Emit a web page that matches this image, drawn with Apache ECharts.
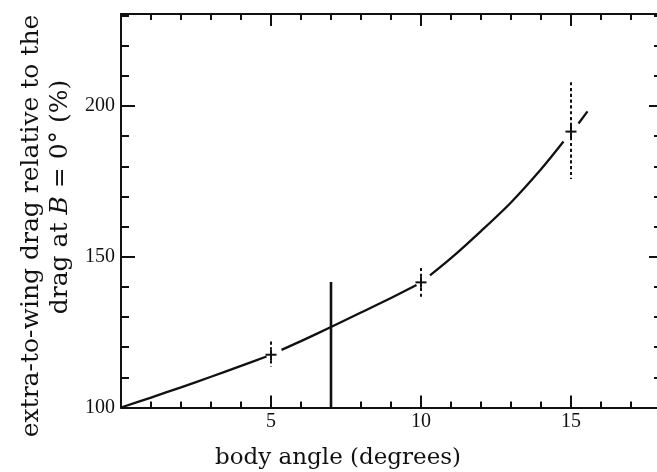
<!DOCTYPE html>
<html>
<head>
<meta charset="utf-8">
<script src="https://cdn.jsdelivr.net/npm/echarts@6/dist/echarts.min.js"></script>
<style>
  html, body { margin: 0; padding: 0; background: #ffffff; }
  #chart { width: 657px; height: 472px; }
</style>
</head>
<body>
<div id="chart"></div>
<script>
// Fitted drag curve, drawn in pieces (breaks around each measured point)
const curveAngles = [0, 1, 2, 3, 4, 4.85, null, 5.35, 6, 7, 8, 9, 9.85, null, 10.3, 11, 12, 13, 14, 14.75, null, 15.25, 15.55];
const curveDrag   = [100, 103.3, 106.7, 110.2, 113.8, 116.9, null, 119.1, 122, 126.7, 131.5, 136.3, 140.6, null, 143.8, 149.5, 158.5, 168, 179, 188.2, null, 194.2, 198.2];

// Measured points with their scatter ranges
const pointAngles = [5, 10, 15];
const pointDrag   = [117.5, 141.5, 191.5];
const rangeLow    = [113.6, 136.5, 175.8];
const rangeHigh   = [121.9, 146.3, 207.9];

// Vertical reference bar at 7 degrees
const barAngle = [7, 7];
const barDrag  = [100, 141.6];

// Axis settings
const xTickLabels = [5, 10, 15];
const yTickLabels = [100, 150, 200];
const xRange = [0, 18];
const yRange = [100, 230.5];

const ink = '#111111';
const digitFont = 'Liberation Serif';
const titleFont = 'DejaVu Serif';

const curveData = curveAngles.map((a, i) => (a === null ? [null, null] : [a, curveDrag[i]]));
const pointData = pointAngles.map((a, i) => [a, pointDrag[i], rangeLow[i], rangeHigh[i]]);
const barData = barAngle.map((a, i) => [a, barDrag[i]]);

function baseAxis(extra) {
  return Object.assign({
    type: 'value',
    axisLine: { show: true, onZero: false, lineStyle: { color: ink, width: 2 } },
    axisTick: { show: true, inside: true, length: 12, lineStyle: { color: ink, width: 2 } },
    minorTick: { show: true, splitNumber: 5, length: 6, lineStyle: { color: ink, width: 2 } },
    splitLine: { show: false },
    minorSplitLine: { show: false }
  }, extra);
}

const chart = echarts.init(document.getElementById('chart'), null, { renderer: 'canvas' });

chart.setOption({
  backgroundColor: '#ffffff',
  animation: false,
  grid: { left: 121, right: -4, top: 14, bottom: 64.5, containLabel: false, outerBoundsMode: 'none' },
  xAxis: [
    baseAxis({
      position: 'bottom', min: xRange[0], max: xRange[1], interval: 5,
      axisLabel: {
        show: true, margin: 4, color: ink, fontFamily: digitFont, fontSize: 20,
        formatter: v => (xTickLabels.indexOf(v) >= 0 ? String(v) : '')
      }
    }),
    baseAxis({
      position: 'top', min: xRange[0], max: xRange[1], interval: 5,
      axisLabel: { show: false }
    })
  ],
  yAxis: [
    baseAxis({
      position: 'left', min: yRange[0], max: yRange[1], interval: 50,
      axisTick: { show: true, inside: true, length: 14, lineStyle: { color: ink, width: 2 } },
      minorTick: { show: true, splitNumber: 5, length: 8, lineStyle: { color: ink, width: 2 } },
      axisLabel: {
        show: true, margin: 6, color: ink, fontFamily: digitFont, fontSize: 20,
        formatter: v => (yTickLabels.indexOf(v) >= 0 ? String(v) : '')
      }
    }),
    baseAxis({
      position: 'right', min: yRange[0], max: yRange[1], interval: 50,
      axisTick: { show: true, inside: true, length: 12, lineStyle: { color: ink, width: 2 } },
      minorTick: { show: true, splitNumber: 5, length: 7, lineStyle: { color: ink, width: 2 } },
      axisLabel: { show: false }
    })
  ],
  series: [
    {
      type: 'line',
      data: curveData,
      xAxisIndex: 0, yAxisIndex: 0,
      showSymbol: false,
      symbol: 'none',
      connectNulls: false,
      smooth: 0.3,
      lineStyle: { color: ink, width: 2.3 },
      silent: true
    },
    {
      type: 'line',
      data: barData,
      xAxisIndex: 0, yAxisIndex: 0,
      symbol: 'none',
      lineStyle: { color: ink, width: 2.6 },
      silent: true
    },
    {
      type: 'custom',
      xAxisIndex: 0, yAxisIndex: 0,
      data: pointData,
      encode: { x: 0, y: 1 },
      silent: true,
      renderItem: function (params, api) {
        const c = api.coord([api.value(0), api.value(1)]);
        const lo = api.coord([api.value(0), api.value(2)]);
        const hi = api.coord([api.value(0), api.value(3)]);
        const arm = 5.5;
        const stroke = { stroke: ink, lineWidth: 2 };
        return {
          type: 'group',
          children: [
            { type: 'line', shape: { x1: c[0] - arm, y1: c[1], x2: c[0] + arm, y2: c[1] }, style: stroke },
            { type: 'line', shape: { x1: c[0], y1: c[1] - arm, x2: c[0], y2: c[1] + arm }, style: stroke },
            { type: 'line', shape: { x1: c[0], y1: hi[1], x2: c[0], y2: c[1] - arm },
              style: { stroke: ink, lineWidth: 2, lineDash: [3.2, 2.6] } },
            { type: 'line', shape: { x1: c[0], y1: c[1] + arm, x2: c[0], y2: lo[1] },
              style: { stroke: ink, lineWidth: 2, lineDash: [3.2, 2.6] } }
          ]
        };
      }
    }
  ],
  graphic: [
    {
      type: 'text', x: 338, y: 458,
      style: {
        text: 'body angle (degrees)', fill: ink,
        font: '23px "' + titleFont + '"', textAlign: 'center', textVerticalAlign: 'middle'
      }
    },
    {
      type: 'text', x: 31, y: 226, rotation: Math.PI / 2,
      style: {
        text: 'extra-to-wing drag relative to the', fill: ink,
        font: '25px "' + titleFont + '"', textAlign: 'center', textVerticalAlign: 'middle'
      }
    },
    {
      type: 'text', x: 60, y: 197, rotation: Math.PI / 2,
      style: {
        text: '{n|drag at }{i|B}{n| = 0° (%)}', fill: ink,
        textAlign: 'center', textVerticalAlign: 'middle',
        rich: {
          n: { fontFamily: titleFont, fontSize: 25, fill: ink },
          i: { fontFamily: titleFont, fontSize: 25, fontStyle: 'italic', fill: ink }
        }
      }
    }
  ]
});
</script>
</body>
</html>
